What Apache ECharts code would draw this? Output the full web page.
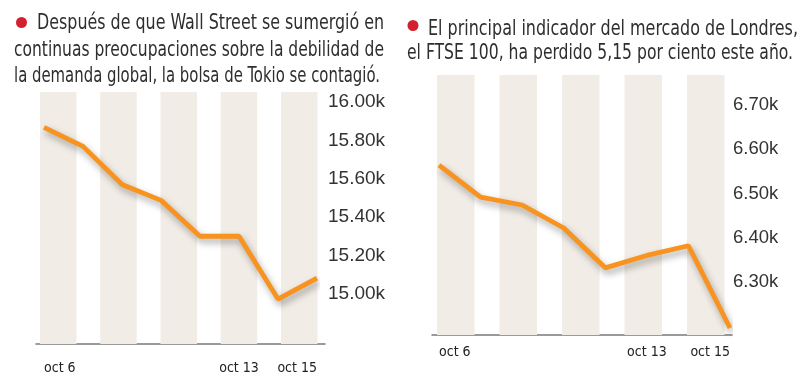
<!DOCTYPE html>
<html>
<head>
<meta charset="utf-8">
<script src="https://cdn.jsdelivr.net/npm/echarts@6/dist/echarts.min.js"></script>
<style>
html,body{margin:0;padding:0;background:#fff;}
#c{width:800px;height:390px;}
</style>
</head>
<body>
<div id="c"></div>
<script>
// ---- data ----
const dates = ['oct 6','oct 7','oct 8','oct 9','oct 10','oct 13','oct 14','oct 15'];
const shownDates = ['oct 6','oct 13','oct 15'];
const tokyoValues = [15868, 15769, 15571, 15488, 15301, 15301, 14974, 15083];
const londonValues = [6564, 6492, 6474, 6422, 6332, 6360, 6382, 6196];
const stripeBands = ['a','b','c','d','e'];
const stripeValues = [1, 1, 1, 1, 1];
const tokyoTitle = ['Después de que Wall Street se sumergió en',
  'continuas preocupaciones sobre la debilidad de',
  'la demanda global, la bolsa de Tokio se contagió.'];
const londonTitle = ['El principal indicador del mercado de Londres,',
  'el FTSE 100, ha perdido 5,15 por ciento este año.'];

const condensed = '"DejaVu Sans Condensed", "Liberation Sans Narrow", sans-serif';
const textColor = '#333333';
const orange = '#F7931E';
const stripeColor = '#F1ECE6';

function kFmt(v){ return (v/1000).toFixed(2) + 'k'; }

const chart = echarts.init(document.getElementById('c'), null, {renderer:'canvas'});

const grids = [
  {left: 28.1, top: 92, width: 301.25, height: 252},
  {left: 36, top: 92, width: 289, height: 252},
  {left: 44, top: 102, width: 273, height: 230.5},
  {left: 424.5, top: 75, width: 312.5, height: 260},
  {left: 432, top: 75, width: 300, height: 260},
  {left: 439, top: 105, width: 291, height: 221.25}
];

function stripeX(g){ return {gridIndex:g, type:'category', data:stripeBands, show:false}; }
function stripeY(g){ return {gridIndex:g, type:'value', min:0, max:1, show:false}; }
function baseX(g){ return {gridIndex:g, type:'category', data:[], axisLine:{show:true, lineStyle:{color:'#7a7a7a', width:1.5}}, axisTick:{show:false}, axisLabel:{show:false}}; }
function baseY(g){ return {gridIndex:g, type:'value', show:false}; }
function lineX(g, margin){
  return {gridIndex:g, type:'category', data:dates, boundaryGap:false,
    axisLine:{show:false}, axisTick:{show:false},
    axisLabel:{interval:(i, v) => shownDates.includes(v), margin: margin,
      fontFamily: condensed, fontSize: 14, color: '#222222',
      alignMinLabel:'left', alignMaxLabel:'right'}};
}
function lineY(g, min, max, interval, fs, margin){
  return {gridIndex:g, type:'value', position:'right', min:min, max:max, interval:interval,
    splitLine:{show:false}, axisLine:{show:false}, axisTick:{show:false},
    axisLabel:{formatter:kFmt, showMinLabel:false, fontFamily:'"Liberation Sans", Arial, sans-serif',
      fontSize:fs, color:textColor, margin:margin, align:'left'}};
}

function stripeSeries(ax, w){
  return {type:'bar', xAxisIndex:ax, yAxisIndex:ax, data:stripeValues, barWidth:w,
    itemStyle:{color:stripeColor}, silent:true, z:1};
}
function lineSeries(ax, data){
  return {type:'line', xAxisIndex:ax, yAxisIndex:ax, data:data, symbol:'none', clip:false,
    lineStyle:{color:orange, width:4.8, shadowColor:'rgba(0,0,0,0.35)', shadowBlur:7, shadowOffsetX:2, shadowOffsetY:4},
    z:5};
}

const measureCtx = document.createElement('canvas').getContext('2d');
const titleFont = '21px ' + condensed;
function titleLines(lines, xs, widths, y, lh){
  measureCtx.font = titleFont;
  return lines.map((t, i) => {
    const w = measureCtx.measureText(t).width;
    return {type:'text', x: xs[i], y: y + i*lh, scaleX: widths[i] / w,
      style:{text:t, font:titleFont, fill:'#2e2e2e', textVerticalAlign:'top'}};
  });
}

const option = {
  animation:false,
  grid: grids,
  xAxis: [stripeX(0), baseX(1), lineX(2, 29), stripeX(3), baseX(4), lineX(5, 19)],
  yAxis: [stripeY(0), baseY(1), lineY(2, 14800, 16000, 200, 19, 11), stripeY(3), baseY(4), lineY(5, 6200, 6700, 100, 18.5, 3)],
  series: [
    stripeSeries(0, 36.5),
    lineSeries(2, tokyoValues),
    stripeSeries(3, 37.5),
    lineSeries(5, londonValues)
  ],
  graphic: [
    {type:'circle', shape:{cx:21.5, cy:22.5, r:5.5}, style:{fill:'#D3202F'}},
    {type:'circle', shape:{cx:413, cy:25.5, r:5.5}, style:{fill:'#D3202F'}}
  ].concat(titleLines(tokyoTitle, [37, 14, 14], [347, 370, 366], 13.5, 26.5))
   .concat(titleLines(londonTitle, [428, 407], [370, 386], 19.5, 24))
};
chart.setOption(option);
</script>
</body>
</html>
